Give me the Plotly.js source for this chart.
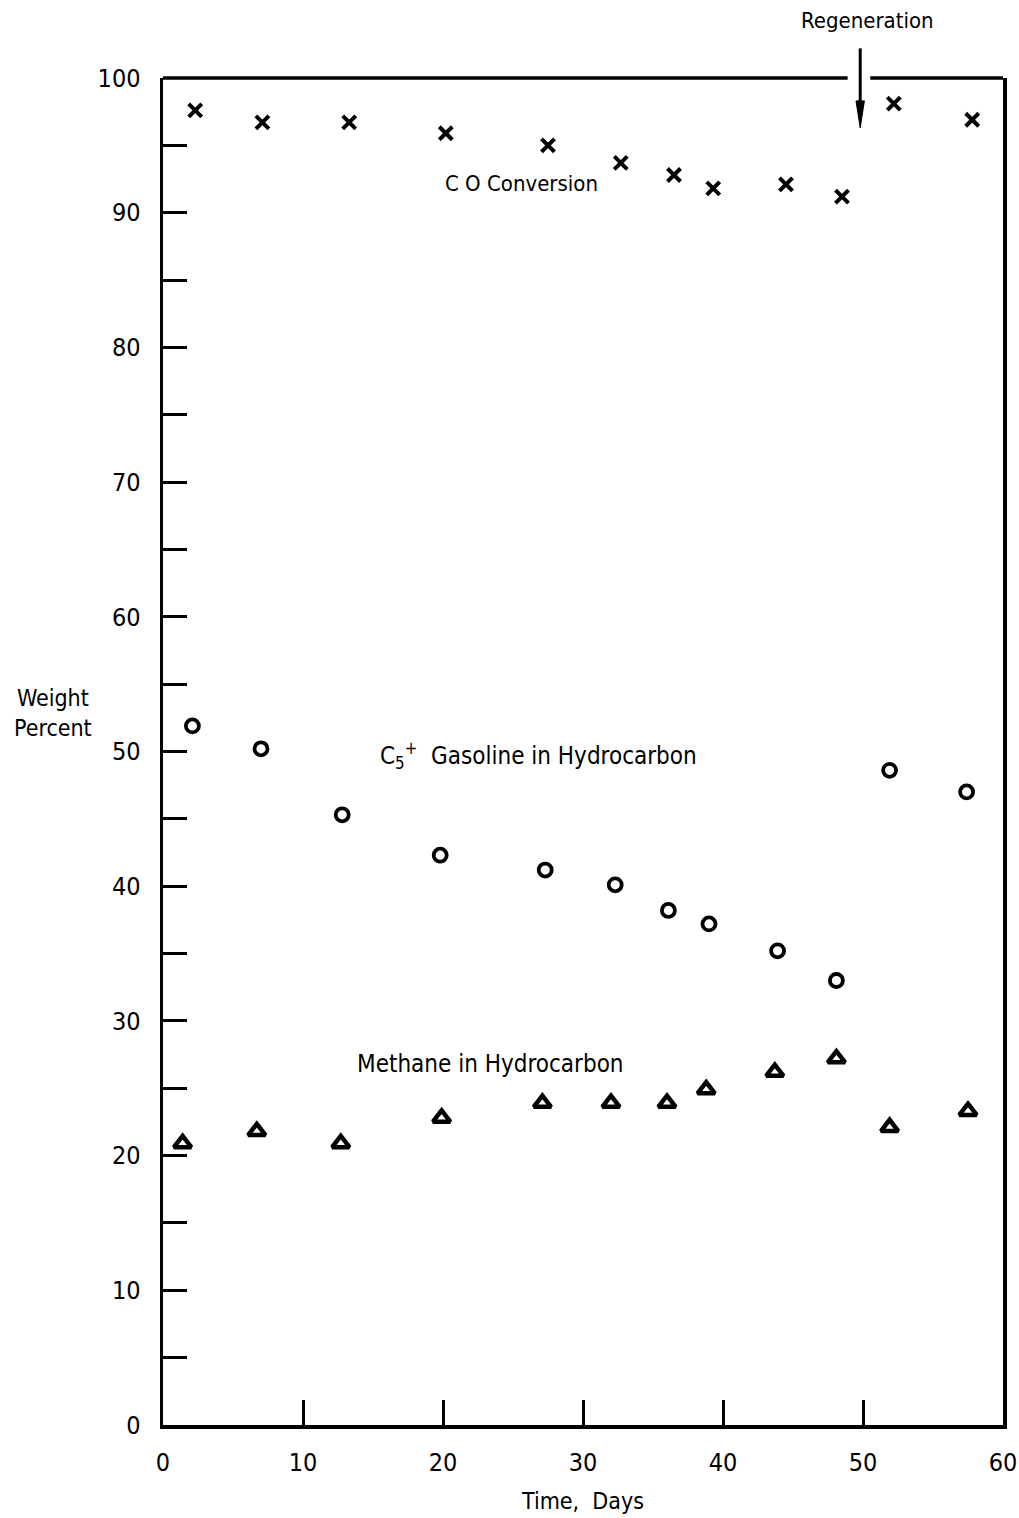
<!DOCTYPE html>
<html>
<head>
<meta charset="utf-8">
<script src="https://cdn.plot.ly/plotly-3.0.1.min.js"></script>
<style>html,body{margin:0;padding:0;background:#fff;}#chart{width:1019px;height:1518px;}</style>
</head>
<body>
<div id="chart"></div>
<script>
// Data (Time in days, weight percent)
const daysCO = [2.3, 7.1, 13.3, 20.2, 27.5, 32.7, 36.5, 39.3, 44.5, 48.5, 52.2, 57.8];
const coConversion = [97.6, 96.7, 96.7, 95.9, 95.0, 93.7, 92.8, 91.8, 92.1, 91.2, 98.1, 96.9];

const daysGasoline = [2.1, 7.0, 12.8, 19.8, 27.3, 32.3, 36.1, 39.0, 43.9, 48.1, 51.9, 57.4];
const c5Gasoline = [51.9, 50.2, 45.3, 42.3, 41.2, 40.1, 38.2, 37.2, 35.2, 33.0, 48.6, 47.0];

const daysMethane = [1.4, 6.7, 12.7, 19.9, 27.1, 32.0, 36.0, 38.8, 43.7, 48.1, 51.9, 57.5];
const methane = [20.9, 21.8, 20.9, 22.8, 23.9, 23.9, 23.9, 24.9, 26.2, 27.2, 22.1, 23.3];

const regenerationDay = 49.8;

const xTickVals = [0, 10, 20, 30, 40, 50, 60];
const xTickText = ['0', '10', '20', '30', '40', '50', '60'];
const yTickVals = [0, 10, 20, 30, 40, 50, 60, 70, 80, 90, 100];
const yTickText = ['0', '10', '20', '30', '40', '50', '60', '70', '80', '90', '100'];
const yMinorTickVals = [5, 15, 25, 35, 45, 55, 65, 75, 85, 95];

const tickFont = {family: 'Liberation Sans Narrow, DejaVu Sans Condensed, sans-serif', size: 25, color: '#000'};
const textFont = {family: 'DejaVu Sans Condensed, Liberation Sans Narrow, sans-serif', size: 23, color: '#000'};

const traces = [
  {x: daysCO, y: coConversion, mode: 'markers', type: 'scatter', name: 'CO Conversion',
   marker: {symbol: 'x-thin', size: 13, color: '#000', line: {color: '#000', width: 4}}},
  {x: daysGasoline, y: c5Gasoline, mode: 'markers', type: 'scatter', name: 'C5+ Gasoline',
   marker: {symbol: 'circle-open', size: 13, color: '#000', line: {color: '#000', width: 3.8}}},
  {x: daysMethane, y: methane, mode: 'markers', type: 'scatter', name: 'Methane',
   marker: {symbol: 'triangle-up-open', size: 15, color: '#000', line: {color: '#000', width: 4.5}}}
];

const layout = {
  width: 1019, height: 1518,
  margin: {l: 163, r: 16, t: 78, b: 93},
  paper_bgcolor: '#fff', plot_bgcolor: '#fff',
  showlegend: false,
  xaxis: {
    range: [0, 60], tickmode: 'array', tickvals: xTickVals, ticktext: xTickText,
    ticks: 'inside', ticklen: 25, tickwidth: 3, tickcolor: '#000',
    showline: true, linewidth: 3.5, linecolor: '#000', mirror: false,
    showgrid: false, zeroline: false, tickfont: tickFont, ticklabelstandoff: 12,
    title: {text: 'Time,\u00A0 Days', font: textFont, standoff: 18}
  },
  yaxis: {
    range: [0, 100], tickmode: 'array', tickvals: yTickVals, ticktext: yTickText,
    ticks: 'inside', ticklen: 24, tickwidth: 3, tickcolor: '#000',
    minor: {tickmode: 'array', tickvals: yMinorTickVals, ticks: 'inside', ticklen: 24, tickwidth: 3, tickcolor: '#000', showgrid: false},
    showline: true, linewidth: 3.5, linecolor: '#000', mirror: true,
    showgrid: false, zeroline: false, tickfont: tickFont, ticklabelstandoff: 14
  },
  shapes: [
    {type: 'line', xref: 'paper', yref: 'paper', x0: 0, x1: 0.815, y0: 1, y1: 1, line: {color: '#000', width: 3.5}},
    {type: 'line', xref: 'paper', yref: 'paper', x0: 0.842, x1: 1, y0: 1, y1: 1, line: {color: '#000', width: 3.5}},
    {type: 'line', xref: 'x', yref: 'paper', x0: regenerationDay, x1: regenerationDay, y0: 1.022, y1: 0.975, line: {color: '#000', width: 3}},
    {type: 'path', xref: 'x', yref: 'paper', fillcolor: '#000', line: {color: '#000', width: 1},
     path: 'M ' + (regenerationDay - 0.3) + ',0.983 L ' + (regenerationDay + 0.3) + ',0.983 L ' + regenerationDay + ',0.963 Z'}
  ],
  annotations: [
    {text: 'Regeneration', xref: 'x', yref: 'paper', x: 50.3, y: 1.043, xanchor: 'center', yanchor: 'middle', showarrow: false, font: {family: textFont.family, size: 22, color: '#000'}},
    {text: 'C O Conversion', xref: 'x', yref: 'y', x: 25.6, y: 92.2, xanchor: 'center', yanchor: 'middle', showarrow: false, font: {family: textFont.family, size: 22, color: '#000'}},
    {text: 'C<sub>5</sub><sup>+</sup>  Gasoline in Hydrocarbon', xref: 'x', yref: 'y', x: 26.8, y: 49.7, xanchor: 'center', yanchor: 'middle', showarrow: false, font: {family: textFont.family, size: 24, color: '#000'}},
    {text: 'Methane in Hydrocarbon', xref: 'x', yref: 'y', x: 23.4, y: 26.8, xanchor: 'center', yanchor: 'middle', showarrow: false, font: {family: textFont.family, size: 24, color: '#000'}},
    {text: 'Weight<br>Percent', xref: 'paper', yref: 'paper', x: -0.131, y: 0.5286, xanchor: 'center', yanchor: 'middle', showarrow: false, font: textFont}
  ]
};

Plotly.newPlot('chart', traces, layout, {staticPlot: true, displayModeBar: false});
</script>
</body>
</html>
